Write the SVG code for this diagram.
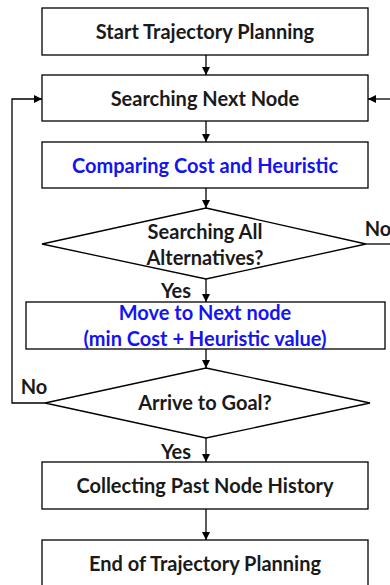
<svg xmlns="http://www.w3.org/2000/svg" width="390" height="585" viewBox="0 0 390 585">
<defs>
<marker id="ah" viewBox="0 0 10 10" refX="10" refY="5" markerWidth="8" markerHeight="8" markerUnits="userSpaceOnUse" orient="auto"><path d="M0,0 L10,5 L0,10 z" fill="#000"/></marker>
<style>
.b{fill:#fff;stroke:#000;stroke-width:1.3}
.t{font-family:Lato,"Open Sans",sans-serif;font-weight:bold;font-size:20px;text-anchor:middle;fill:#1a1a1a}
.bl{fill:#1414f0}
.c{fill:none;stroke:#000;stroke-width:1.3;marker-end:url(#ah)}
.l{fill:none;stroke:#000;stroke-width:1.3}
</style>
</defs>
<rect width="390" height="585" fill="#fff"/>
<g id="connectors">
<path class="c" d="M206,55 V75"/>
<path class="c" d="M206,121 V142"/>
<path class="c" d="M206,188 V208"/>
<path class="c" d="M206,279 V302"/>
<path class="c" d="M206,349 V368"/>
<path class="c" d="M206,438 V462"/>
<path class="c" d="M206,509 V540"/>
<path class="l" d="M366,244 H390"/>
<path class="c" d="M390,99 H368"/>
<path class="c" d="M45,403 H12 V99 H42"/>
<text class="t" x="378" y="236">No</text>
<text class="t" x="34" y="394">No</text>
<text class="t" x="176" y="298">Yes</text>
<text class="t" x="176" y="459">Yes</text>
</g>
<g id="start"><rect class="b" x="42" y="8" width="326" height="47"/><text class="t" x="205" y="39">Start Trajectory Planning</text></g>
<g id="search"><rect class="b" x="42" y="75" width="326" height="46"/><text class="t" x="205" y="106">Searching Next Node</text></g>
<g id="compare"><rect class="b" x="42" y="142" width="326" height="46"/><text class="t bl" x="205" y="173">Comparing Cost and Heuristic</text></g>
<g id="alt"><path class="b" d="M206,208 L366,244 L206,279 L42,244 Z"/><text class="t" x="205" y="239">Searching All</text><text class="t" x="205" y="265">Alternatives?</text></g>
<g id="move"><rect class="b" x="26" y="302" width="359" height="47"/><text class="t bl" x="205" y="320">Move to Next node</text><text class="t bl" x="205" y="346">(min Cost + Heuristic value)</text></g>
<g id="goal"><path class="b" d="M206,368 L370,403 L206,438 L45,403 Z"/><text class="t" x="205" y="410">Arrive to Goal?</text></g>
<g id="collect"><rect class="b" x="42" y="462" width="326" height="47"/><text class="t" x="205" y="493">Collecting Past Node History</text></g>
<g id="end"><rect class="b" x="42" y="540" width="326" height="50"/><text class="t" x="205" y="571">End of Trajectory Planning</text></g>
</svg>
